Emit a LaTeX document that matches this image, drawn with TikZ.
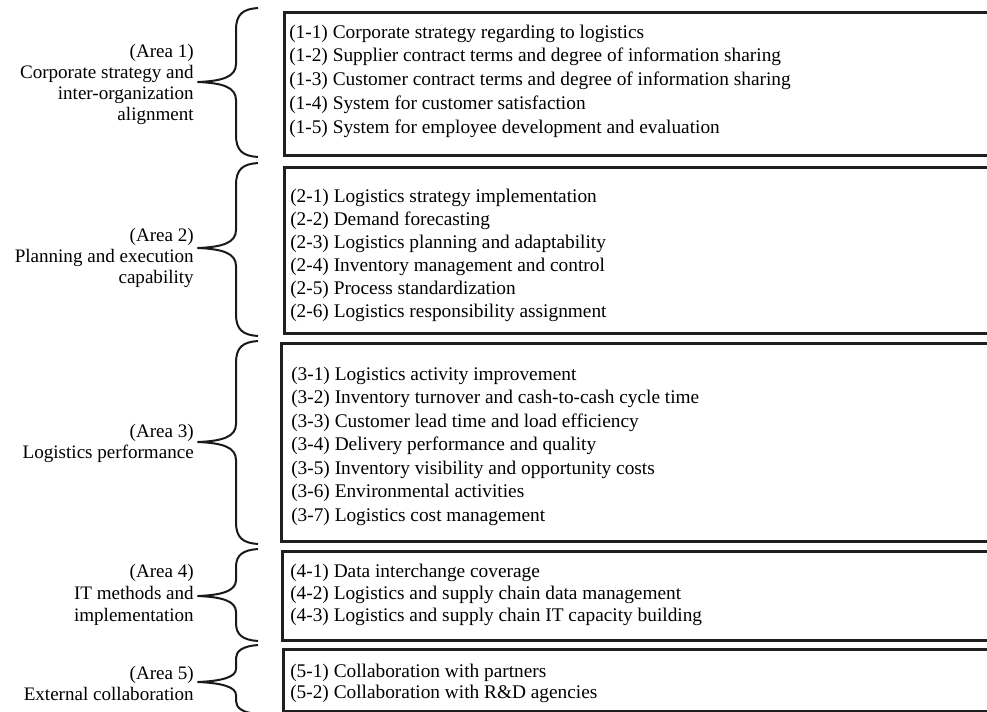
\documentclass[tikz,border=0pt]{standalone}
\usepackage{fontspec}
\setmainfont{Liberation Serif}
\begin{document}
\begin{tikzpicture}[x=0.75pt,y=-0.75pt,
  box/.style={draw=black!88,line width=1.9pt,rectangle,anchor=north west,minimum width=560pt,inner sep=0pt},
  items/.style={anchor=west,align=left,inner sep=0pt,font=\fontsize{14.5}{17.4}\selectfont},
  area/.style={anchor=east,align=right,inner sep=0pt,font=\fontsize{14.3}{15.75}\selectfont},
  bracestyle/.style={draw=black!90,line width=1.5pt,line join=round}]
\clip (0,0) rectangle (987,711);
\newcommand\areabrace[5]{%
  \draw[bracestyle] (258,#1) .. controls (243,{#1+1}) and (236,{#1+6}) .. (236,{#1+#4})
    -- (236,{#2-#5}) .. controls (236,{#2-5}) and (222,{#2-1}) .. (198,#2)
    .. controls (222,{#2+1}) and (236,{#2+5}) .. (236,{#2+#5})
    -- (236,{#3-#4}) .. controls (236,{#3-6}) and (243,{#3-1}) .. (258,#3);}
% boxes
\node[box,minimum height=107.25pt] (b1) at (283,11) {};
\node[box,minimum height=124.5pt] (b2) at (283,166) {};
\node[box,minimum height=148.5pt] (b3) at (280,342) {};
\node[box,minimum height=66.75pt] (b4) at (281,550) {};
\node[box,minimum height=46.5pt] (b5) at (282,648) {};
% item texts
\node[items,font=\fontsize{14.5}{17.8}\selectfont] (t1) at (289,81) {(1-1) Corporate strategy regarding to logistics\\(1-2) Supplier contract terms and degree of information sharing\\(1-3) Customer contract terms and degree of information sharing\\(1-4) System for customer satisfaction\\(1-5) System for employee development and evaluation};
\node[items,font=\fontsize{14.5}{17.25}\selectfont] (t2) at (290,255) {(2-1) Logistics strategy implementation\\(2-2) Demand forecasting\\(2-3) Logistics planning and adaptability\\(2-4) Inventory management and control\\(2-5) Process standardization\\(2-6) Logistics responsibility assignment};
\node[items,font=\fontsize{14.5}{17.6}\selectfont] (t3) at (291,446) {(3-1) Logistics activity improvement\\(3-2) Inventory turnover and cash-to-cash cycle time\\(3-3) Customer lead time and load efficiency\\(3-4) Delivery performance and quality\\(3-5) Inventory visibility and opportunity costs\\(3-6) Environmental activities\\(3-7) Logistics cost management};
\node[items,font=\fontsize{14.5}{16.5}\selectfont] (t4) at (290,595) {(4-1) Data interchange coverage\\(4-2) Logistics and supply chain data management\\(4-3) Logistics and supply chain IT capacity building};
\node[items,font=\fontsize{14.5}{15.75}\selectfont] (t5) at (290,683) {(5-1) Collaboration with partners\\(5-2) Collaboration with R\&D agencies};
% area labels
\node[area] (a1) at (194,84) {(Area 1)\\Corporate strategy and\\inter-organization\\alignment};
\node[area] (a2) at (194,258) {(Area 2)\\Planning and execution\\capability};
\node[area] (a3) at (194,443) {(Area 3)\\Logistics performance};
\node[area,font=\fontsize{14.3}{16.5}\selectfont] (a4) at (194,595) {(Area 4)\\IT methods and\\implementation};
\node[area] (a5) at (194,683) {(Area 5)\\External collaboration};
% braces
\areabrace{8}{82}{157}{22}{18}
\areabrace{163}{248}{336}{22}{18}
\areabrace{341}{442}{544}{22}{18}
\areabrace{549}{596}{641}{18}{16}
\areabrace{645}{682}{714}{13}{13}
\end{tikzpicture}
\end{document}
